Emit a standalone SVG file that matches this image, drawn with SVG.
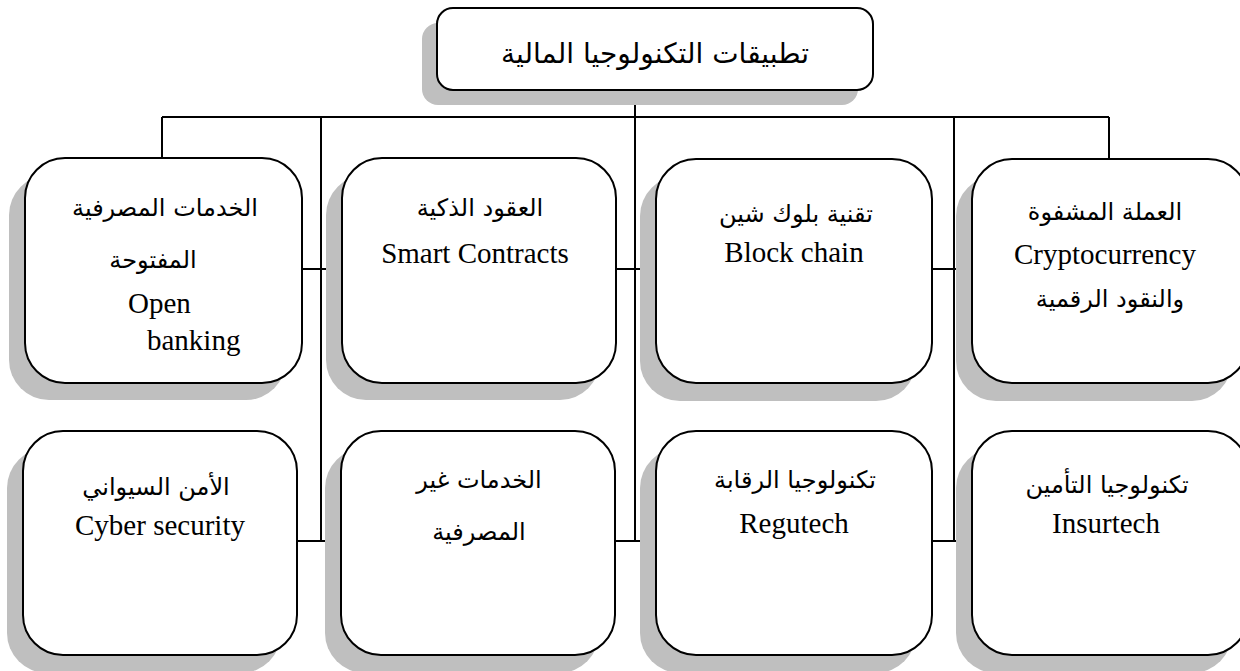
<svg xmlns="http://www.w3.org/2000/svg" width="1240" height="671" viewBox="0 0 1240 671">
<style>
.shadow{fill:#bfbfbf;stroke:none}
.box{fill:#ffffff;stroke:#000;stroke-width:2}
.ln{stroke:#000;stroke-width:2;fill:none}
.ar{font-family:"DejaVu Sans","Noto Sans",sans-serif;font-size:24px;fill:#000;text-anchor:middle}
.en{font-family:"Liberation Serif","Times New Roman",serif;font-size:29px;fill:#000;text-anchor:middle}
.title{font-family:"DejaVu Sans","Noto Sans",sans-serif;font-size:28px;fill:#000;text-anchor:middle}
</style>
<rect width="1240" height="671" fill="#ffffff"/>
<g id="connectors">
<path class="ln" d="M162 117H1109M162 117V158M1109 117V158M321 117V541M635 90V541M954 117V541"/>
<path class="ln" d="M302 269H343M616 269H656M932 269H972M297 541H341M615 541H656M932 541H972"/>
</g>
<g id="root">
<rect class="shadow" x="422" y="23" width="436" height="82" rx="16"/>
<rect class="box" x="437" y="8" width="436" height="82" rx="16"/>
<text class="title" x="655" y="63" direction="rtl">تطبيقات التكنولوجيا المالية</text>
</g>
<g id="n1">
<rect class="shadow" x="9" y="175" width="277" height="225" rx="40"/>
<rect class="box" x="25" y="158" width="277" height="225" rx="40"/>
<text class="ar" x="165" y="216" direction="rtl">الخدمات المصرفية</text>
<text class="ar" x="153" y="268" direction="rtl">المفتوحة</text>
<text class="en" x="128" y="313" style="text-anchor:start">Open</text>
<text class="en" x="147" y="350" style="text-anchor:start">banking</text>
</g>
<g id="n2">
<rect class="shadow" x="326" y="175" width="274" height="225" rx="40"/>
<rect class="box" x="342" y="158" width="274" height="225" rx="40"/>
<text class="ar" x="480" y="216" direction="rtl">العقود الذكية</text>
<text class="en" x="475" y="263">Smart Contracts</text>
</g>
<g id="n3">
<rect class="shadow" x="640" y="176" width="276" height="225" rx="40"/>
<rect class="box" x="656" y="159" width="276" height="224" rx="40"/>
<text class="ar" x="796" y="222" direction="rtl">تقنية بلوك شين</text>
<text class="en" x="794" y="262">Block chain</text>
</g>
<g id="n4">
<rect class="shadow" x="956" y="176" width="276" height="225" rx="40"/>
<rect class="box" x="972" y="159" width="276" height="224" rx="40"/>
<text class="ar" x="1105" y="220" direction="rtl">العملة المشفوة</text>
<text class="en" x="1105" y="264">Cryptocurrency</text>
<text class="ar" x="1110" y="307" direction="rtl">والنقود الرقمية</text>
</g>
<g id="n5">
<rect class="shadow" x="7" y="448" width="274" height="225" rx="40"/>
<rect class="box" x="23" y="431" width="274" height="224" rx="40"/>
<text class="ar" x="156" y="495" direction="rtl">الأمن السيواني</text>
<text class="en" x="160" y="535">Cyber security</text>
</g>
<g id="n6">
<rect class="shadow" x="325" y="448" width="274" height="225" rx="40"/>
<rect class="box" x="341" y="431" width="274" height="224" rx="40"/>
<text class="ar" x="479" y="488" direction="rtl">الخدمات غير</text>
<text class="ar" x="479" y="540" direction="rtl">المصرفية</text>
</g>
<g id="n7">
<rect class="shadow" x="640" y="448" width="276" height="225" rx="40"/>
<rect class="box" x="656" y="431" width="276" height="224" rx="40"/>
<text class="ar" x="795" y="488" direction="rtl">تكنولوجيا الرقابة</text>
<text class="en" x="794" y="533">Regutech</text>
</g>
<g id="n8">
<rect class="shadow" x="956" y="448" width="276" height="225" rx="40"/>
<rect class="box" x="972" y="431" width="276" height="224" rx="40"/>
<text class="ar" x="1107" y="493" direction="rtl">تكنولوجيا التأمين</text>
<text class="en" x="1106" y="533">Insurtech</text>
</g>
</svg>
